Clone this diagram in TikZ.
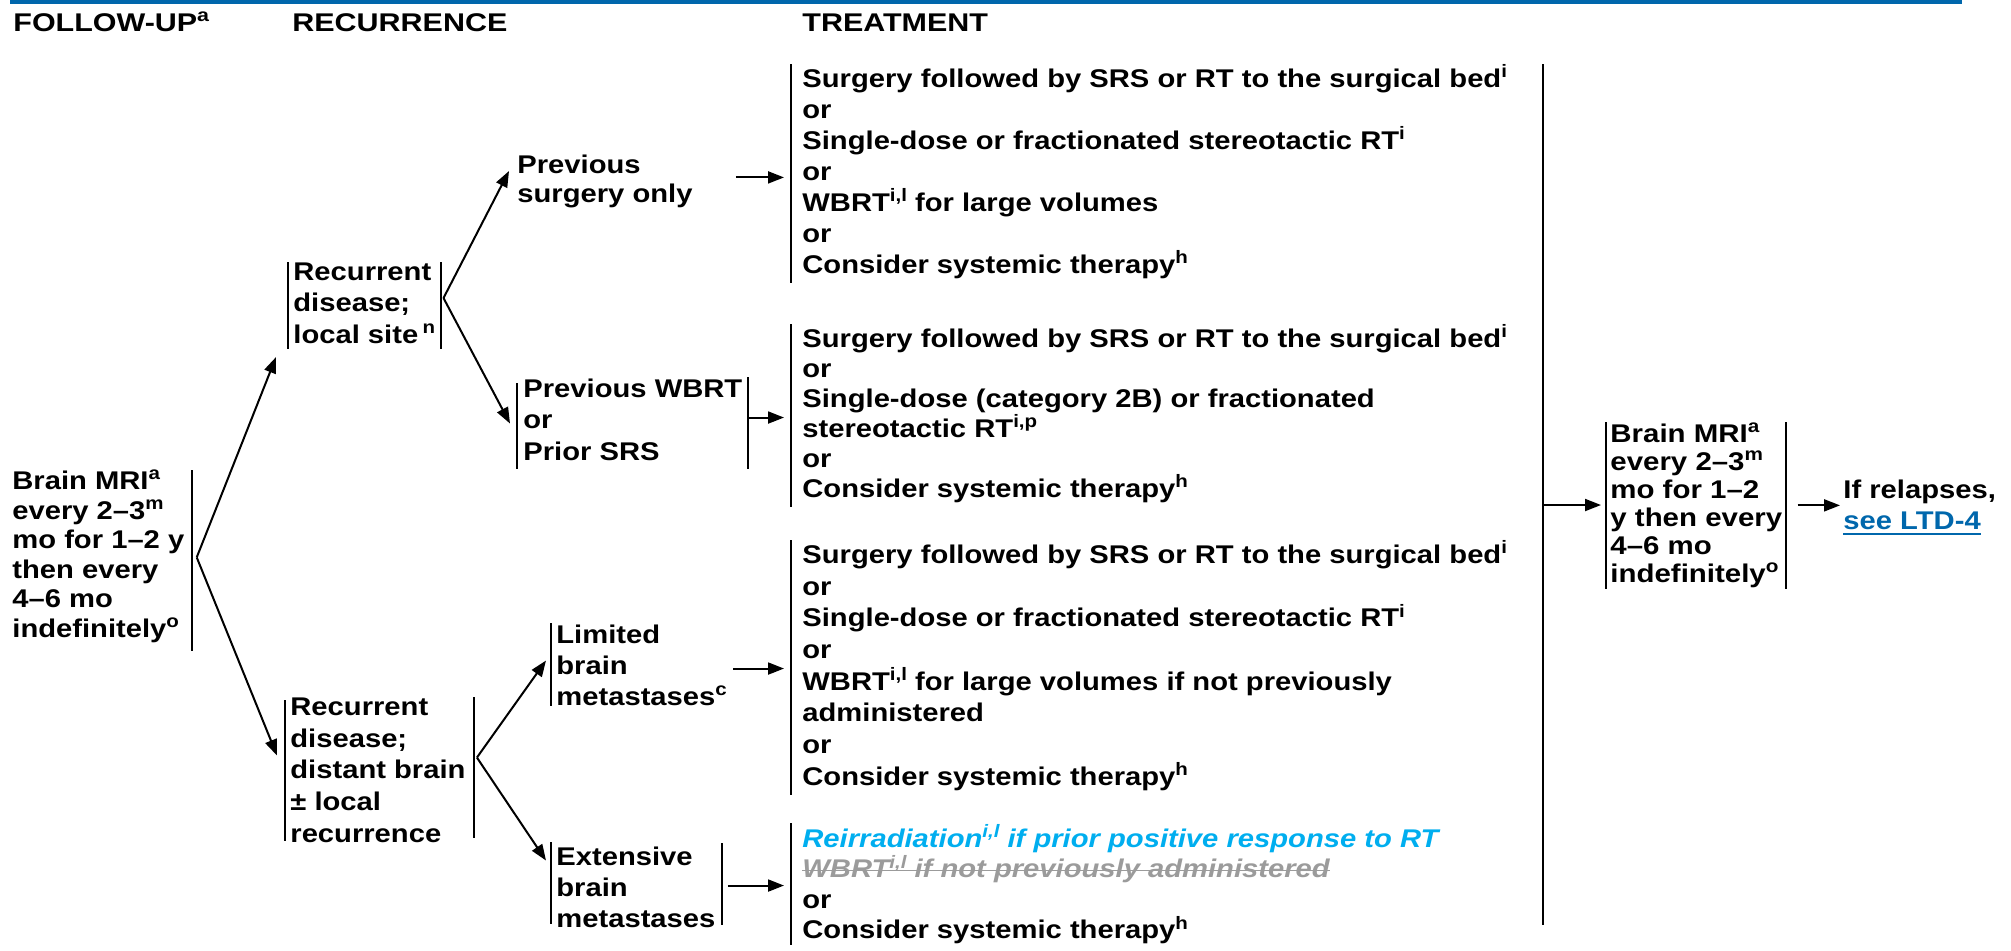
\documentclass[tikz,border=0pt]{standalone}
\usepackage{fontspec}
\setmainfont{Liberation Sans}[FakeStretch=1.14]
\newfontfamily\headfont{Liberation Sans}[FakeStretch=1.19]
\newfontfamily\widefont{Liberation Sans}[FakeStretch=1.15]
\usetikzlibrary{calc,arrows.meta}
\definecolor{nccnblue}{RGB}{0,103,172}
\definecolor{reirr}{RGB}{0,174,239}
\definecolor{struck}{RGB}{155,155,155}
% raised footnote letters
\newcommand\ftn[1]{\raisebox{0.38em}{\fontsize{9pt}{9pt}\selectfont #1}}
% fixed height of the first line, so that north = first baseline - 14pt
\newcommand\topst{\rule{0pt}{14pt}}
% struck-through and underlined text
\newsavebox\markbox
\newcommand\strk[1]{\sbox\markbox{#1}\rlap{\usebox\markbox}\rule[0.27em]{\wd\markbox}{0.75pt}}
\newcommand\undl[1]{\sbox\markbox{#1}\rlap{\usebox\markbox}\rule[-0.2em]{\wd\markbox}{0.8pt}}
\tikzset{
  txt/.style={anchor=north west, inner sep=0pt, align=left,
    font={\bfseries\fontsize{12.8pt}{#1}\selectfont\lineskiplimit=-100pt\lineskip=0pt}},
  txt/.default=15.5pt,
  head/.style={anchor=north west, inner sep=0pt,
    font={\headfont\bfseries\fontsize{12.8pt}{15pt}\selectfont}},
  bar/.style={line width=1pt},
  bigbar/.style={line width=1.1pt},
  link/.style={line width=1pt, -{Triangle[length=8pt,width=6pt]}},
}
\begin{document}
\begin{tikzpicture}[x=0.5pt,y=-0.5pt]
\useasboundingbox (0,0) rectangle (2011,950);

% top rule
\draw[nccnblue, line width=2pt] (10,2) -- (1962,2);

% column headings
\node[head] (h1) at (13,3)  {\topst FOLLOW-UP\ftn{a}};
\node[head] (h2) at (292,3) {\topst RECURRENCE};
\node[head] (h3) at (802,3) {\topst TREATMENT};

% follow-up
\node[txt=14.8pt] (fu) at (12,461) {\topst Brain MRI\ftn{a}\\every 2–3\ftn{m}\\mo for 1–2 y\\then every\\4–6 mo\\indefinitely\ftn{o}};

% recurrence
\node[txt=15.75pt] (loc) at (293,252) {\topst Recurrent\\disease;\\local site\,\ftn{n}};
\node[txt=15.85pt] (dist) at (290,687) {\topst Recurrent\\disease;\\distant brain\\± local\\recurrence};

% prior treatment / extent
\node[txt=14.5pt] (ps) at (517,145) {\topst Previous\\surgery only};
\node[txt=15.75pt] (pw) at (523,369) {\topst Previous WBRT\\or\\Prior SRS};
\node[txt=15.5pt] (lim) at (556,615) {\topst Limited\\brain\\metastases\ftn{c}};
\node[txt=15.5pt] (ext) at (556,837) {\topst Extensive\\brain\\metastases};

% treatment
\node[txt=15.5pt] (t1) at (802,59) {\topst Surgery followed by SRS or RT to the surgical bed\ftn{i}\\or\\Single-dose or fractionated stereotactic RT\ftn{i}\\or\\WBRT\ftn{i,l} for large volumes\\or\\Consider systemic therapy\ftn{h}};
\node[txt=15pt] (t2) at (802,319) {\topst Surgery followed by SRS or RT to the surgical bed\ftn{i}\\or\\Single-dose (category 2B) or fractionated\\stereotactic RT\ftn{i,p}\\or\\Consider systemic therapy\ftn{h}};
\node[txt=15.85pt] (t3) at (802,535) {\topst Surgery followed by SRS or RT to the surgical bed\ftn{i}\\or\\Single-dose or fractionated stereotactic RT\ftn{i}\\or\\WBRT\ftn{i,l} for large volumes if not previously\\administered\\or\\Consider systemic therapy\ftn{h}};
\node[txt=15.25pt] (t4) at (802,819) {\topst{\color{reirr}\itshape Reirradiation\ftn{i,l} if prior positive response to RT}\\{\color{struck}\itshape\strk{WBRT\ftn{i,l} if not previously administered}}\\or\\Consider systemic therapy\ftn{h}};

% continued follow-up
\node[txt, font={\widefont\bfseries\fontsize{12.8pt}{14pt}\selectfont\lineskiplimit=-100pt\lineskip=0pt}] (fu2) at (1610,414) {\topst Brain MRI\ftn{a}\\every 2–3\ftn{m}\\mo for 1–2\\y then every\\4–6 mo\\indefinitely\ftn{o}};
\node[txt=15.5pt] (rel) at (1843,470) {\topst If relapses,\\{\color{nccnblue}\undl{see LTD-4}}};

% brackets beside the text blocks
\draw[bar] ($(fu.north east)+(7,9)$) -- ($(fu.south east)+(7,7.6)$);
\draw[bar] ($(loc.north west)+(-5,10)$) -- ($(loc.south west)+(-5,5)$);
\draw[bar] ($(loc.north east)+(5,10)$) -- ($(loc.south east)+(5,5)$);
\draw[bar] ($(dist.north west)+(-5,13)$) -- ($(dist.south west)+(-5,-2)$);
\draw[bar] ($(dist.north east)+(8,10)$) -- ($(dist.south east)+(8,-5)$);
\draw[bar] ($(pw.north west)+(-6,14)$) -- ($(pw.south west)+(-6,8)$);
\draw[bar] ($(pw.north east)+(5,8)$) -- ($(pw.south east)+(5,8)$);
\draw[bar] ($(lim.north west)+(-5,8)$) -- ($(lim.south west)+(-5,0)$);
\draw[bar] ($(ext.north west)+(-5,5)$) -- ($(ext.south west)+(-5,-4)$);
\draw[bar] ($(ext.north east)+(6,6)$) -- ($(ext.south east)+(6,-3)$);
\foreach \t in {t1,t2,t3}
  \draw[bar] ($(\t.north west)+(-11,5)$) -- ($(\t.south west)+(-11,4)$);
\draw[bar] ($(t4.north west)+(-11,4)$) -- ($(t4.south west)+(-11,0)$);
\draw[bar] ($(fu2.north west)+(-4,8)$) -- ($(fu2.south west)+(-4,1)$);
\draw[bar] ($(fu2.north east)+(3,8)$) -- ($(fu2.south east)+(3,1)$);

% fork points and arrow ends
\coordinate (fuA) at ($(fu.east)+(12,5.3)$);
\coordinate (locA) at ($(loc.east)+(8,0)$);
\coordinate (distA) at ($(dist.east)+(11,-7.4)$);
\coordinate (tLoc) at ($(loc.south west)+(-17,13)$);
\coordinate (tDist) at ($(dist.west)+(-13,-9.4)$);
\coordinate (tPS) at ($(ps.north west)+(-8,26)$);
\coordinate (tPW) at ($(pw.west)+(-13,8.5)$);
\coordinate (tLim) at ($(lim.west)+(-10,0)$);
\coordinate (tExt) at ($(ext.west)+(-10,-22)$);

\draw[link] (fuA) -- (tLoc);
\draw[link] (fuA) -- (tDist);
\draw[link] (locA) -- (tPS);
\draw[link] (locA) -- (tPW);
\draw[link] (distA) -- (tLim);
\draw[link] (distA) -- (tExt);

% arrows into the treatment blocks
\coordinate (psOut) at ($(ps.east)+(43,0.8)$);
\coordinate (pwOut) at ($(pw.east)+(5,2.5)$);
\coordinate (limOut) at ($(lim.east)+(6,8)$);
\coordinate (extOut) at ($(ext.east)+(12,3)$);
\foreach \t in {t1,t2,t3,t4}
  \coordinate (\t in) at ($(\t.west)+(-18,0)$);
\draw[link] (psOut) -- (psOut -| t1in);
\draw[link] (pwOut) -- (pwOut -| t2in);
\draw[link] (limOut) -- (limOut -| t3in);
\draw[link] (extOut) -- (extOut -| t4in);

% collecting bar and continued follow-up
\coordinate (bbT) at (1543,64);
\coordinate (bbB) at (1543,925);
\draw[bigbar] (bbT) -- (bbB);
\coordinate (bbOut) at (1544,505);
\coordinate (fu2in) at ($(fu2.west)+(-9,0)$);
\draw[link] (bbOut) -- (bbOut -| fu2in);
\coordinate (fu2Out) at ($(fu2.east)+(15,4.3)$);
\coordinate (relin) at ($(rel.west)+(-3,0)$);
\draw[link] (fu2Out) -- (fu2Out -| relin);
\end{tikzpicture}
\end{document}
